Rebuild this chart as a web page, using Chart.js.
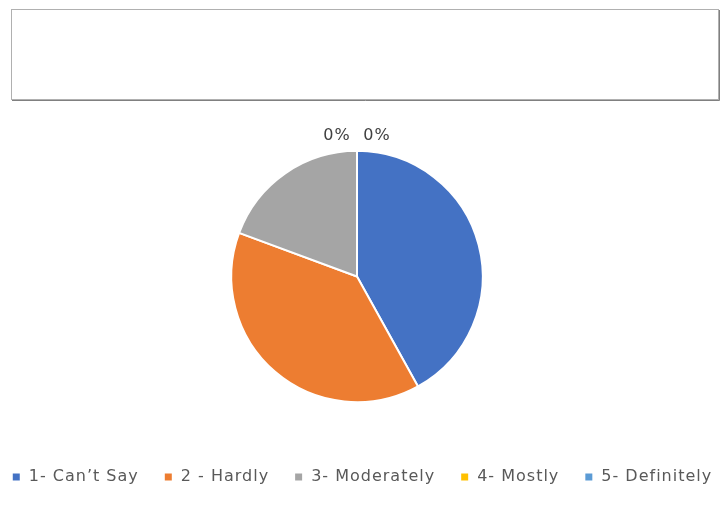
<!DOCTYPE html>
<html>
<head>
<meta charset="utf-8">
<script src="https://cdn.jsdelivr.net/npm/chart.js@4.4.0/dist/chart.umd.min.js"></script>
<style>
  html, body { margin: 0; padding: 0; background: #fff; }
  #wrap { width: 726px; height: 506px; }
</style>
</head>
<body>
<div id="wrap"><canvas id="ratingPie"></canvas></div>
<script>
const labels = ["1- Can\u2019t Say", "2 - Hardly", "3- Moderately", "4- Mostly", "5- Definitely"];
const responses = [13, 12, 6, 0, 0];
const sliceColors = ["#4472C4", "#ED7D31", "#A5A5A5", "#FFC000", "#5B9BD5"];

// wider text like the original (canvas resets its state on resize, so set it each time)
const spacing = {
  id: "spacing",
  beforeLayout(chart) { chart.ctx.letterSpacing = "1px"; },
  beforeDraw(chart) { chart.ctx.letterSpacing = "1px"; }
};

// legend wraps too early (it counts padding twice), let it use a bit more room
const oneRow = {
  id: "oneRow",
  afterInit(chart) {
    const legend = chart.legend;
    const fit = legend.fit;
    const draw = legend.draw;
    legend.fit = function () {
      const w = this.maxWidth;
      this.maxWidth = w + 100;
      fit.call(this);
      this.maxWidth = w;
      this.width = w;
    };
    legend.draw = function () {
      const l = this.left, r = this.right;
      this.left = l - 40;
      this.right = r + 50;
      draw.call(this);
      this.left = l;
      this.right = r;
    };
  }
};

// empty title box at the top
const titleBox = {
  id: "titleBox",
  beforeDraw(chart) {
    const ctx = chart.ctx;
    ctx.save();
    ctx.fillStyle = "#fff";
    ctx.fillRect(0, 0, chart.width, chart.height);
    ctx.lineWidth = 1;
    ctx.strokeStyle = "#b0b0b0";
    ctx.strokeRect(11.5, 9.5, 707, 90);
    ctx.strokeStyle = "#808080";
    ctx.beginPath();
    ctx.moveTo(12, 100.5);
    ctx.lineTo(719.5, 100.5);
    ctx.lineTo(719.5, 10);
    ctx.stroke();
    ctx.restore();
  }
};

// only zero slices get a label (they sit above the top of the pie)
const zeroLabels = {
  id: "zeroLabels",
  afterDraw(chart) {
    const ctx = chart.ctx;
    const data = chart.data.datasets[0].data;
    const total = data.reduce((a, b) => a + b, 0);
    const arcs = chart.getDatasetMeta(0).data;
    let n = 0;
    ctx.save();
    ctx.font = "16px 'DejaVu Sans', sans-serif";
    ctx.fillStyle = "#404040";
    ctx.textAlign = "center";
    ctx.textBaseline = "middle";
    data.forEach((v, i) => {
      if (v !== 0) return;
      const arc = arcs[i];
      const pct = Math.round(v / total * 100) + "%";
      const dx = n === 0 ? -20 : 20;
      ctx.fillText(pct, arc.x + dx, arc.y - arc.outerRadius - 15);
      n++;
    });
    ctx.restore();
  }
};

const ctx = document.getElementById("ratingPie").getContext("2d");
const myChart = new Chart(ctx, {
  type: "pie",
  data: {
    labels: labels,
    datasets: [{
      data: responses,
      backgroundColor: sliceColors,
      borderColor: "#fff",
      borderWidth: 2,
      radius: "75.5%"
    }]
  },
  options: {
    responsive: true,
    maintainAspectRatio: false,
    animation: false,
    layout: { padding: { top: 109, bottom: 11, left: 0, right: 12 } },
    plugins: {
      legend: {
        position: "bottom",
        labels: {
          boxWidth: 9,
          boxHeight: 9,
          padding: 25,
          color: "#595959",
          font: { family: "'DejaVu Sans', sans-serif", size: 16 }
        }
      },
      tooltip: { enabled: false }
    }
  },
  plugins: [spacing, oneRow, titleBox, zeroLabels]
});
</script>
</body>
</html>
